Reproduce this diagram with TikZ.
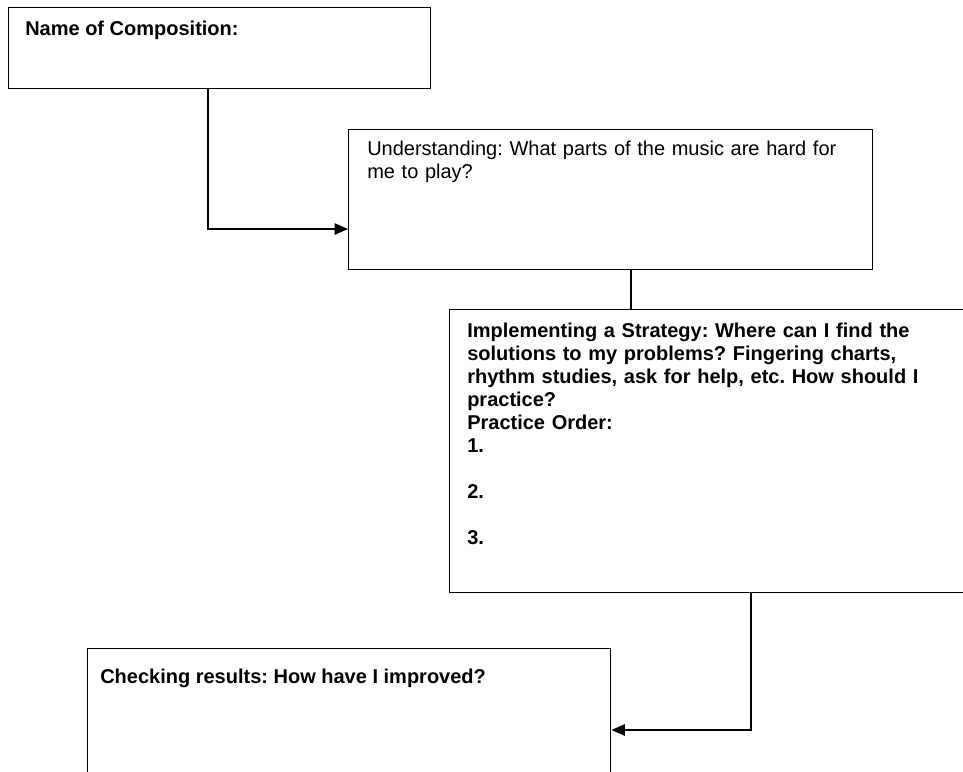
\documentclass[tikz,border=0pt]{standalone}
\usepackage{fontspec}
\setmainfont{Liberation Sans}
\usetikzlibrary{arrows.meta,calc}
\frenchspacing
\begin{document}
\begin{tikzpicture}[x=0.75pt,y=-0.75pt,
  box/.style={draw=black,line width=1.1pt,rectangle,inner sep=0pt,anchor=north west},
  txt/.style={inner sep=0pt,anchor=base west,font=\fontsize{15}{17.25}\selectfont\frenchspacing},
  btxt/.style={txt,font=\fontsize{15}{17.25}\selectfont\bfseries\frenchspacing},
  mtxt/.style={align=left,text width=#1},
  link/.style={draw=black,line width=1.1pt},
  tip/.style={-{Triangle[length=10pt,width=8.5pt]}}
]
\useasboundingbox (0,0) rectangle (963,771);
\clip (0,0) rectangle (963,771);
\fill[white] (0,0) rectangle (963,771);

% boxes
\node[box,minimum width=316.5pt,minimum height=60.75pt] (b1) at (8,7) {};
\node[box,minimum width=393pt,minimum height=105pt] (b2) at (348,129) {};
\node[box,minimum width=394.5pt,minimum height=212.25pt] (b3) at (449,309) {};
\node[box,minimum width=392.25pt,minimum height=112.5pt] (b4) at (87,648) {};

% texts
\node[btxt] (t1) at ($(b1.north west)+(17,29)$) {Name of Composition:};
\node[txt,mtxt=400pt] (t2) at ($(b2.north west)+(19,26)$) {Understanding: What parts of the music are hard for\\me to play?};
\node[btxt,mtxt=390pt] (t3) at ($(b3.north west)+(18,28)$) {Implementing a Strategy: Where can I find the\\solutions to my problems? Fingering charts,\\rhythm studies, ask for help, etc. How should I\\practice?\\Practice Order:\\1.\\[17.25pt]2.\\[17.25pt]3.};
\node[btxt] (t4) at ($(b4.north west)+(13,35)$) {Checking results: How have I improved?};

% connectors
\coordinate (c1) at ($(b1.south west)+(200,0)$);
\coordinate (c2) at ($(b2.north west)+(0,100)$);
\draw[link,tip] (c1) |- (c2);
\coordinate (c3) at ($(b2.south west)+(283,0)$);
\draw[link] (c3) -- (c3 |- b3.north);
\coordinate (c4) at ($(b3.south west)+(302,0)$);
\coordinate (c5) at ($(b4.north east)+(0,82)$);
\draw[link,tip] (c4) |- (c5);
\end{tikzpicture}
\end{document}
